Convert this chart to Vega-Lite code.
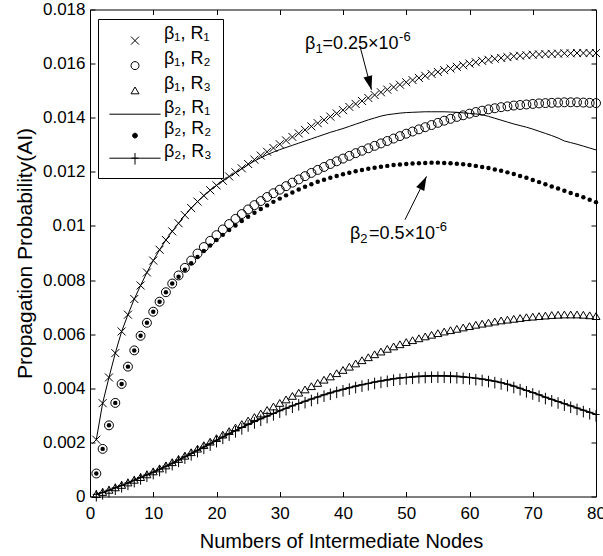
{
  "$schema": "https://vega.github.io/schema/vega-lite/v6.json",
  "autosize": {"type": "none"},
  "width": 506,
  "height": 487,
  "padding": {"left": 90, "top": 9.5, "right": 7, "bottom": 59.5},
  "background": "white",
  "config": {
    "view": {"stroke": "black", "strokeWidth": 1},
    "font": "Liberation Sans",
    "text": {"font": "Liberation Sans", "color": "black", "align": "left", "baseline": "alphabetic"},
    "axis": {"grid": false, "domain": false, "tickColor": "black", "tickWidth": 1, "tickSize": -5,
             "labelFont": "Liberation Sans", "labelFontSize": 17, "labelColor": "black",
             "titleFont": "Liberation Sans", "titleFontWeight": "normal", "titleColor": "black"}
  },
  "datasets": {
    "curves": [
      {"n":1,"b1r1":0.00210,"b1r2":0.00085,"b1r3":0.00008,"b2r1":0.00210,"b2r2":0.00085,"b2r3":0.00008},
      {"n":2,"b1r1":0.00345,"b1r2":0.00176,"b1r3":0.00016,"b2r1":0.00345,"b2r2":0.00176,"b2r3":0.00015},
      {"n":3,"b1r1":0.00440,"b1r2":0.00263,"b1r3":0.00024,"b2r1":0.00440,"b2r2":0.00263,"b2r3":0.00023},
      {"n":4,"b1r1":0.00530,"b1r2":0.00346,"b1r3":0.00033,"b2r1":0.00530,"b2r2":0.00346,"b2r3":0.00032},
      {"n":5,"b1r1":0.00610,"b1r2":0.00416,"b1r3":0.00042,"b2r1":0.00610,"b2r2":0.00416,"b2r3":0.00041},
      {"n":6,"b1r1":0.00672,"b1r2":0.00480,"b1r3":0.00051,"b2r1":0.00672,"b2r2":0.00480,"b2r3":0.00050},
      {"n":7,"b1r1":0.00730,"b1r2":0.00540,"b1r3":0.00061,"b2r1":0.00730,"b2r2":0.00540,"b2r3":0.00060},
      {"n":8,"b1r1":0.00780,"b1r2":0.00594,"b1r3":0.00071,"b2r1":0.00780,"b2r2":0.00594,"b2r3":0.00070},
      {"n":9,"b1r1":0.00828,"b1r2":0.00642,"b1r3":0.00081,"b2r1":0.00828,"b2r2":0.00642,"b2r3":0.00080},
      {"n":10,"b1r1":0.00872,"b1r2":0.00683,"b1r3":0.00092,"b2r1":0.00872,"b2r2":0.00683,"b2r3":0.00090},
      {"n":11,"b1r1":0.00912,"b1r2":0.00720,"b1r3":0.00103,"b2r1":0.00912,"b2r2":0.00720,"b2r3":0.00101},
      {"n":12,"b1r1":0.00948,"b1r2":0.00755,"b1r3":0.00114,"b2r1":0.00948,"b2r2":0.00755,"b2r3":0.00112},
      {"n":13,"b1r1":0.00980,"b1r2":0.00787,"b1r3":0.00126,"b2r1":0.00980,"b2r2":0.00787,"b2r3":0.00123},
      {"n":14,"b1r1":0.01010,"b1r2":0.00817,"b1r3":0.00138,"b2r1":0.01010,"b2r2":0.00812,"b2r3":0.00135},
      {"n":15,"b1r1":0.01040,"b1r2":0.00845,"b1r3":0.00150,"b2r1":0.01040,"b2r2":0.00838,"b2r3":0.00147},
      {"n":16,"b1r1":0.01066,"b1r2":0.00872,"b1r3":0.00163,"b2r1":0.01066,"b2r2":0.00862,"b2r3":0.00159},
      {"n":17,"b1r1":0.01090,"b1r2":0.00898,"b1r3":0.00176,"b2r1":0.01090,"b2r2":0.00885,"b2r3":0.00171},
      {"n":18,"b1r1":0.01112,"b1r2":0.00922,"b1r3":0.00189,"b2r1":0.01112,"b2r2":0.00907,"b2r3":0.00183},
      {"n":19,"b1r1":0.01132,"b1r2":0.00945,"b1r3":0.00202,"b2r1":0.01132,"b2r2":0.00928,"b2r3":0.00195},
      {"n":20,"b1r1":0.01150,"b1r2":0.00966,"b1r3":0.00215,"b2r1":0.01150,"b2r2":0.00948,"b2r3":0.00208},
      {"n":21,"b1r1":0.01167,"b1r2":0.00987,"b1r3":0.00228,"b2r1":0.01167,"b2r2":0.00967,"b2r3":0.00220},
      {"n":22,"b1r1":0.01183,"b1r2":0.01007,"b1r3":0.00241,"b2r1":0.01182,"b2r2":0.00985,"b2r3":0.00232},
      {"n":23,"b1r1":0.01198,"b1r2":0.01026,"b1r3":0.00254,"b2r1":0.01197,"b2r2":0.01002,"b2r3":0.00244},
      {"n":24,"b1r1":0.01213,"b1r2":0.01044,"b1r3":0.00267,"b2r1":0.01211,"b2r2":0.01018,"b2r3":0.00255},
      {"n":25,"b1r1":0.01229,"b1r2":0.01061,"b1r3":0.00280,"b2r1":0.01226,"b2r2":0.01034,"b2r3":0.00266},
      {"n":26,"b1r1":0.01245,"b1r2":0.01077,"b1r3":0.00293,"b2r1":0.01240,"b2r2":0.01049,"b2r3":0.00277},
      {"n":27,"b1r1":0.01260,"b1r2":0.01092,"b1r3":0.00306,"b2r1":0.01252,"b2r2":0.01063,"b2r3":0.00287},
      {"n":28,"b1r1":0.01274,"b1r2":0.01107,"b1r3":0.00319,"b2r1":0.01263,"b2r2":0.01076,"b2r3":0.00297},
      {"n":29,"b1r1":0.01288,"b1r2":0.01121,"b1r3":0.00332,"b2r1":0.01273,"b2r2":0.01089,"b2r3":0.00307},
      {"n":30,"b1r1":0.01302,"b1r2":0.01134,"b1r3":0.00345,"b2r1":0.01282,"b2r2":0.01101,"b2r3":0.00317},
      {"n":31,"b1r1":0.01316,"b1r2":0.01147,"b1r3":0.00358,"b2r1":0.01290,"b2r2":0.01113,"b2r3":0.00326},
      {"n":32,"b1r1":0.01329,"b1r2":0.01160,"b1r3":0.00371,"b2r1":0.01298,"b2r2":0.01124,"b2r3":0.00335},
      {"n":33,"b1r1":0.01342,"b1r2":0.01172,"b1r3":0.00383,"b2r1":0.01306,"b2r2":0.01135,"b2r3":0.00344},
      {"n":34,"b1r1":0.01355,"b1r2":0.01184,"b1r3":0.00395,"b2r1":0.01314,"b2r2":0.01145,"b2r3":0.00352},
      {"n":35,"b1r1":0.01368,"b1r2":0.01196,"b1r3":0.00407,"b2r1":0.01322,"b2r2":0.01154,"b2r3":0.00360},
      {"n":36,"b1r1":0.01380,"b1r2":0.01207,"b1r3":0.00419,"b2r1":0.01330,"b2r2":0.01163,"b2r3":0.00368},
      {"n":37,"b1r1":0.01392,"b1r2":0.01218,"b1r3":0.00431,"b2r1":0.01338,"b2r2":0.01171,"b2r3":0.00376},
      {"n":38,"b1r1":0.01404,"b1r2":0.01229,"b1r3":0.00443,"b2r1":0.01346,"b2r2":0.01178,"b2r3":0.00383},
      {"n":39,"b1r1":0.01416,"b1r2":0.01239,"b1r3":0.00455,"b2r1":0.01353,"b2r2":0.01185,"b2r3":0.00390},
      {"n":40,"b1r1":0.01428,"b1r2":0.01249,"b1r3":0.00467,"b2r1":0.01360,"b2r2":0.01191,"b2r3":0.00396},
      {"n":41,"b1r1":0.01440,"b1r2":0.01259,"b1r3":0.00479,"b2r1":0.01368,"b2r2":0.01197,"b2r3":0.00402},
      {"n":42,"b1r1":0.01451,"b1r2":0.01269,"b1r3":0.00491,"b2r1":0.01376,"b2r2":0.01202,"b2r3":0.00408},
      {"n":43,"b1r1":0.01462,"b1r2":0.01278,"b1r3":0.00503,"b2r1":0.01384,"b2r2":0.01207,"b2r3":0.00413},
      {"n":44,"b1r1":0.01473,"b1r2":0.01287,"b1r3":0.00514,"b2r1":0.01392,"b2r2":0.01211,"b2r3":0.00418},
      {"n":45,"b1r1":0.01484,"b1r2":0.01296,"b1r3":0.00525,"b2r1":0.01399,"b2r2":0.01215,"b2r3":0.00423},
      {"n":46,"b1r1":0.01494,"b1r2":0.01305,"b1r3":0.00535,"b2r1":0.01406,"b2r2":0.01219,"b2r3":0.00427},
      {"n":47,"b1r1":0.01504,"b1r2":0.01314,"b1r3":0.00545,"b2r1":0.01411,"b2r2":0.01222,"b2r3":0.00431},
      {"n":48,"b1r1":0.01513,"b1r2":0.01323,"b1r3":0.00554,"b2r1":0.01414,"b2r2":0.01225,"b2r3":0.00435},
      {"n":49,"b1r1":0.01522,"b1r2":0.01332,"b1r3":0.00562,"b2r1":0.01417,"b2r2":0.01227,"b2r3":0.00438},
      {"n":50,"b1r1":0.01531,"b1r2":0.01341,"b1r3":0.00570,"b2r1":0.01419,"b2r2":0.01229,"b2r3":0.00440},
      {"n":51,"b1r1":0.01539,"b1r2":0.01349,"b1r3":0.00577,"b2r1":0.01420,"b2r2":0.01231,"b2r3":0.00442},
      {"n":52,"b1r1":0.01547,"b1r2":0.01357,"b1r3":0.00584,"b2r1":0.01421,"b2r2":0.01232,"b2r3":0.00444},
      {"n":53,"b1r1":0.01555,"b1r2":0.01365,"b1r3":0.00591,"b2r1":0.01422,"b2r2":0.01233,"b2r3":0.00445},
      {"n":54,"b1r1":0.01562,"b1r2":0.01373,"b1r3":0.00597,"b2r1":0.01422,"b2r2":0.01234,"b2r3":0.00446},
      {"n":55,"b1r1":0.01569,"b1r2":0.01381,"b1r3":0.00603,"b2r1":0.01422,"b2r2":0.01234,"b2r3":0.00446},
      {"n":56,"b1r1":0.01576,"b1r2":0.01389,"b1r3":0.00609,"b2r1":0.01422,"b2r2":0.01233,"b2r3":0.00446},
      {"n":57,"b1r1":0.01582,"b1r2":0.01396,"b1r3":0.00614,"b2r1":0.01421,"b2r2":0.01232,"b2r3":0.00445},
      {"n":58,"b1r1":0.01588,"b1r2":0.01403,"b1r3":0.00619,"b2r1":0.01420,"b2r2":0.01230,"b2r3":0.00444},
      {"n":59,"b1r1":0.01594,"b1r2":0.01409,"b1r3":0.00624,"b2r1":0.01418,"b2r2":0.01228,"b2r3":0.00442},
      {"n":60,"b1r1":0.01600,"b1r2":0.01415,"b1r3":0.00629,"b2r1":0.01416,"b2r2":0.01225,"b2r3":0.00440},
      {"n":61,"b1r1":0.01605,"b1r2":0.01421,"b1r3":0.00634,"b2r1":0.01414,"b2r2":0.01222,"b2r3":0.00437},
      {"n":62,"b1r1":0.01610,"b1r2":0.01426,"b1r3":0.00638,"b2r1":0.01411,"b2r2":0.01218,"b2r3":0.00434},
      {"n":63,"b1r1":0.01614,"b1r2":0.01431,"b1r3":0.00642,"b2r1":0.01405,"b2r2":0.01214,"b2r3":0.00430},
      {"n":64,"b1r1":0.01618,"b1r2":0.01435,"b1r3":0.00646,"b2r1":0.01398,"b2r2":0.01209,"b2r3":0.00426},
      {"n":65,"b1r1":0.01621,"b1r2":0.01439,"b1r3":0.00650,"b2r1":0.01391,"b2r2":0.01204,"b2r3":0.00421},
      {"n":66,"b1r1":0.01624,"b1r2":0.01442,"b1r3":0.00653,"b2r1":0.01384,"b2r2":0.01198,"b2r3":0.00415},
      {"n":67,"b1r1":0.01627,"b1r2":0.01445,"b1r3":0.00656,"b2r1":0.01377,"b2r2":0.01192,"b2r3":0.00408},
      {"n":68,"b1r1":0.01629,"b1r2":0.01447,"b1r3":0.00659,"b2r1":0.01371,"b2r2":0.01185,"b2r3":0.00400},
      {"n":69,"b1r1":0.01631,"b1r2":0.01449,"b1r3":0.00662,"b2r1":0.01365,"b2r2":0.01178,"b2r3":0.00392},
      {"n":70,"b1r1":0.01633,"b1r2":0.01451,"b1r3":0.00664,"b2r1":0.01358,"b2r2":0.01170,"b2r3":0.00384},
      {"n":71,"b1r1":0.01634,"b1r2":0.01453,"b1r3":0.00666,"b2r1":0.01350,"b2r2":0.01162,"b2r3":0.00376},
      {"n":72,"b1r1":0.01635,"b1r2":0.01454,"b1r3":0.00668,"b2r1":0.01342,"b2r2":0.01154,"b2r3":0.00367},
      {"n":73,"b1r1":0.01636,"b1r2":0.01455,"b1r3":0.00670,"b2r1":0.01334,"b2r2":0.01146,"b2r3":0.00359},
      {"n":74,"b1r1":0.01637,"b1r2":0.01456,"b1r3":0.00671,"b2r1":0.01325,"b2r2":0.01138,"b2r3":0.00351},
      {"n":75,"b1r1":0.01638,"b1r2":0.01457,"b1r3":0.00672,"b2r1":0.01314,"b2r2":0.01130,"b2r3":0.00343},
      {"n":76,"b1r1":0.01638,"b1r2":0.01457,"b1r3":0.00672,"b2r1":0.01308,"b2r2":0.01122,"b2r3":0.00335},
      {"n":77,"b1r1":0.01639,"b1r2":0.01457,"b1r3":0.00672,"b2r1":0.01302,"b2r2":0.01114,"b2r3":0.00327},
      {"n":78,"b1r1":0.01639,"b1r2":0.01456,"b1r3":0.00671,"b2r1":0.01295,"b2r2":0.01106,"b2r3":0.00319},
      {"n":79,"b1r1":0.01639,"b1r2":0.01455,"b1r3":0.00669,"b2r1":0.01288,"b2r2":0.01097,"b2r3":0.00311},
      {"n":80,"b1r1":0.01639,"b1r2":0.01454,"b1r3":0.00666,"b2r1":0.01281,"b2r2":0.01088,"b2r3":0.00303}
    ],
    "keys": [
      {"series": "β₁, R₁"}, {"series": "β₁, R₂"}, {"series": "β₁, R₃"},
      {"series": "β₂, R₁"}, {"series": "β₂, R₂"}, {"series": "β₂, R₃"}
    ]
  },
  "resolve": {"axis": {"x": "independent", "y": "independent"}},
  "layer": [
    {
      "data": {"name": "curves"},
      "mark": {"type": "line", "stroke": "black", "strokeWidth": 1},
      "encoding": {
        "x": {"field": "n", "type": "quantitative", "scale": {"domain": [0, 80], "nice": false, "zero": false},
              "axis": {"orient": "bottom", "values": [0,10,20,30,40,50,60,70,80], "format": "d", "labelFlush": false,
                       "labelPadding": 14, "title": "Numbers of Intermediate Nodes", "titleFontSize": 20,
                       "titleX": 251, "titleY": 51, "titleBaseline": "alphabetic"}},
        "y": {"field": "b2r1", "type": "quantitative", "scale": {"domain": [0, 0.018], "nice": false, "zero": false},
              "axis": {"orient": "left", "values": [0,0.002,0.004,0.006,0.008,0.01,0.012,0.014,0.016,0.018], "format": "~g",
                       "labelPadding": 10, "title": "Propagation Probability(AI)", "titleFontSize": 21,
                       "titleX": -65, "titleY": 243.5, "titleBaseline": "middle", "titleAngle": 270}}
      }
    },
    {
      "data": {"name": "curves"},
      "mark": {"type": "line", "stroke": "black", "strokeWidth": 1.6},
      "encoding": {
        "x": {"field": "n", "type": "quantitative",
              "axis": {"orient": "top", "values": [0,10,20,30,40,50,60,70,80], "labels": false, "title": null}},
        "y": {"field": "b2r3", "type": "quantitative",
              "axis": {"orient": "right", "values": [0,0.002,0.004,0.006,0.008,0.01,0.012,0.014,0.016,0.018], "labels": false, "title": null}}
      }
    },
    {
      "data": {"name": "curves"},
      "mark": {"type": "point", "shape": "M0,-0.9L1,0.8L-1,0.8Z", "size": 64, "filled": false, "stroke": "black", "strokeWidth": 1, "opacity": 1},
      "encoding": {
        "x": {"field": "n", "type": "quantitative", "axis": null},
        "y": {"field": "b1r3", "type": "quantitative", "axis": null}
      }
    },
    {
      "data": {"name": "curves"},
      "mark": {"type": "point", "shape": "M0,-1.1L0,1.8M-0.9,0L0.9,0", "size": 64, "filled": false, "stroke": "black", "strokeWidth": 1, "opacity": 1},
      "encoding": {
        "x": {"field": "n", "type": "quantitative", "axis": null},
        "y": {"field": "b2r3", "type": "quantitative", "axis": null}
      }
    },
    {
      "data": {"name": "curves"},
      "mark": {"type": "point", "shape": "circle", "size": 80, "filled": false, "stroke": "black", "strokeWidth": 1, "opacity": 1},
      "encoding": {
        "x": {"field": "n", "type": "quantitative", "axis": null},
        "y": {"field": "b1r2", "type": "quantitative", "axis": null}
      }
    },
    {
      "data": {"name": "curves"},
      "mark": {"type": "point", "shape": "circle", "size": 20, "filled": true, "fill": "black", "strokeWidth": 0, "opacity": 1},
      "encoding": {
        "x": {"field": "n", "type": "quantitative", "axis": null},
        "y": {"field": "b2r2", "type": "quantitative", "axis": null}
      }
    },
    {
      "data": {"name": "curves"},
      "mark": {"type": "point", "shape": "M-1,-1L1,1M-1,1L1,-1", "size": 64, "filled": false, "stroke": "black", "strokeWidth": 1, "opacity": 1},
      "encoding": {
        "x": {"field": "n", "type": "quantitative", "axis": null},
        "y": {"field": "b1r1", "type": "quantitative", "axis": null}
      }
    },
    {
      "data": {"name": "keys"},
      "transform": [{"filter": "false"}],
      "mark": {"type": "point", "strokeWidth": 1, "size": 64, "opacity": 1},
      "encoding": {
        "shape": {
          "field": "series", "type": "nominal",
          "scale": {
            "domain": ["β₁, R₁", "β₁, R₂", "β₁, R₃", "β₂, R₁", "β₂, R₂", "β₂, R₃"],
            "range": ["M-1,-0.6L1,1.4M-1,1.4L1,-0.6",
                      "M-1,0.4A1,1 0 1,1 1,0.4A1,1 0 1,1 -1,0.4Z",
                      "M0,-0.5L1,1.2L-1,1.2Z",
                      "M-6.4,0.3L6.4,0.3",
                      "M-0.6,0.4A0.6,0.6 0 1,1 0.6,0.4A0.6,0.6 0 1,1 -0.6,0.4Z",
                      "M-6.4,0.3L6.4,0.3M0,-1L0,1.9M-0.9,0.3L0.9,0.3"]
          },
          "legend": {
            "orient": "none", "legendX": 8, "legendY": 9.5, "title": null,
            "strokeColor": "black", "fillColor": "white", "padding": 11,
            "labelFont": "Liberation Sans", "labelFontSize": 18, "labelColor": "black",
            "labelBaseline": "alphabetic", "labelOffset": 20, "symbolOffset": 17,
            "rowPadding": 3, "symbolSize": 64, "symbolStrokeWidth": 1
          }
        },
        "fill": {
          "field": "series", "type": "nominal",
          "scale": {
            "domain": ["β₁, R₁", "β₁, R₂", "β₁, R₃", "β₂, R₁", "β₂, R₂", "β₂, R₃"],
            "range": ["transparent", "transparent", "transparent", "transparent", "black", "transparent"]
          }
        },
        "stroke": {
          "field": "series", "type": "nominal",
          "scale": {
            "domain": ["β₁, R₁", "β₁, R₂", "β₁, R₃", "β₂, R₁", "β₂, R₂", "β₂, R₃"],
            "range": ["black", "black", "black", "black", "black", "black"]
          }
        }
      }
    },
    {
      "data": {"values": [{}]},
      "mark": {"type": "text", "text": "β", "fontSize": 18},
      "encoding": {"x": {"datum": 34, "axis": null}, "y": {"datum": 0.01653, "axis": null}}
    },
    {
      "data": {"values": [{}]},
      "mark": {"type": "text", "text": "1", "fontSize": 13, "dx": 10.4, "dy": 4},
      "encoding": {"x": {"datum": 34, "axis": null}, "y": {"datum": 0.01653, "axis": null}}
    },
    {
      "data": {"values": [{}]},
      "mark": {"type": "text", "text": "=0.25×10", "fontSize": 18, "dx": 17.5},
      "encoding": {"x": {"datum": 34, "axis": null}, "y": {"datum": 0.01653, "axis": null}}
    },
    {
      "data": {"values": [{}]},
      "mark": {"type": "text", "text": "-6", "fontSize": 13, "dx": 94, "dy": -8},
      "encoding": {"x": {"datum": 34, "axis": null}, "y": {"datum": 0.01653, "axis": null}}
    },
    {
      "data": {"values": [{}]},
      "mark": {"type": "rule", "stroke": "black", "strokeWidth": 1},
      "encoding": {"x": {"datum": 42.7, "axis": null}, "y": {"datum": 0.01663, "axis": null}, "x2": {"datum": 44.5}, "y2": {"datum": 0.01503}}
    },
    {
      "data": {"values": [{}]},
      "mark": {"type": "point", "shape": "M0,0L-0.32,-1L0.32,-1Z", "size": 784, "filled": true, "fill": "black", "strokeWidth": 0, "opacity": 1, "angle": 345},
      "encoding": {"x": {"datum": 44.5, "axis": null}, "y": {"datum": 0.01503, "axis": null}}
    },
    {
      "data": {"values": [{}]},
      "mark": {"type": "text", "text": "β", "fontSize": 18},
      "encoding": {"x": {"datum": 41.1, "axis": null}, "y": {"datum": 0.00952, "axis": null}}
    },
    {
      "data": {"values": [{}]},
      "mark": {"type": "text", "text": "2", "fontSize": 13, "dx": 10.4, "dy": 4},
      "encoding": {"x": {"datum": 41.1, "axis": null}, "y": {"datum": 0.00952, "axis": null}}
    },
    {
      "data": {"values": [{}]},
      "mark": {"type": "text", "text": "=0.5×10", "fontSize": 18, "dx": 19},
      "encoding": {"x": {"datum": 41.1, "axis": null}, "y": {"datum": 0.00952, "axis": null}}
    },
    {
      "data": {"values": [{}]},
      "mark": {"type": "text", "text": "-6", "fontSize": 13, "dx": 85.5, "dy": -8},
      "encoding": {"x": {"datum": 41.1, "axis": null}, "y": {"datum": 0.00952, "axis": null}}
    },
    {
      "data": {"values": [{}]},
      "mark": {"type": "rule", "stroke": "black", "strokeWidth": 1},
      "encoding": {"x": {"datum": 49.8, "axis": null}, "y": {"datum": 0.01023, "axis": null}, "x2": {"datum": 53.2}, "y2": {"datum": 0.01183}}
    },
    {
      "data": {"values": [{}]},
      "mark": {"type": "point", "shape": "M0,0L-0.32,-1L0.32,-1Z", "size": 784, "filled": true, "fill": "black", "strokeWidth": 0, "opacity": 1, "angle": 206.6},
      "encoding": {"x": {"datum": 53.2, "axis": null}, "y": {"datum": 0.01183, "axis": null}}
    }
  ]
}
